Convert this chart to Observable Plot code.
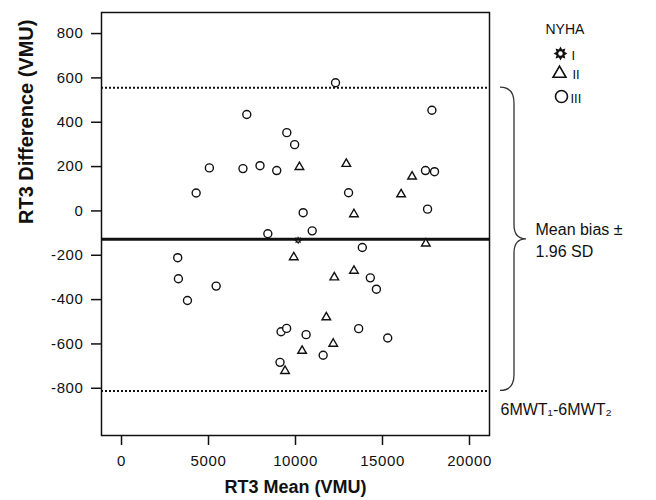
<!DOCTYPE html>
<html><head><meta charset="utf-8">
<script src="https://cdn.jsdelivr.net/npm/d3@7"></script>
<script src="https://cdn.jsdelivr.net/npm/@observablehq/plot@0.6"></script>
<style>
body{margin:0;background:#fff;}
g[aria-label="x-axis tick label"] text, g[aria-label="y-axis tick label"] text{letter-spacing:0.6px;}
g[aria-label="xlabel"] text{letter-spacing:2.2px;}
g[aria-label="ylabel"] text{letter-spacing:2.6px;}
g[aria-label="bias-text"] text{letter-spacing:1.8px;}
g[aria-label="diff-text"] text{letter-spacing:2px;}
</style></head><body><div id="chart"></div>
<script>
// NYHA class III (circles)
const nyha3Mean = [7200, 9500, 9950, 5050, 6980, 7960, 8920, 4290, 10440, 8410, 10960, 3230, 12300, 17840, 17470, 17990, 13050, 17590, 13840, 3270, 3790, 5440, 9170, 9490, 10610, 9110, 14300, 14650, 13630, 15300, 11590];
const nyha3Diff = [435, 353, 299, 194, 191, 204, 182, 81, -8, -103, -90, -211, 578, 454, 182, 177, 82, 8, -165, -306, -404, -339, -545, -530, -558, -683, -302, -353, -531, -573, -651];
// NYHA class II (triangles)
const nyha2Mean = [10225, 9900, 12920, 16700, 16070, 13360, 17490, 10380, 9400, 12230, 13360, 11770, 12170];
const nyha2Diff = [198, -209, 212, 155, 75, -15, -147, -631, -722, -300, -270, -480, -599];
// NYHA class I (star)
const nyha1Mean = [10150];
const nyha1Diff = [-132];

const meanBias = -128;
const upperLoA = 556;
const lowerLoA = -812;

const xTicks = [0, 5000, 10000, 15000, 20000];
const yTicks = [-800, -600, -400, -200, 0, 200, 400, 600, 800];
const legendTitle = "NYHA";
const legendLabels = ["I", "II", "III"];

const toRows = (xs, ys, cls) => xs.map((x, i) => ({mean: x, diff: ys[i], nyha: cls}));
const rows3 = toRows(nyha3Mean, nyha3Diff, "III");
const rows2 = toRows(nyha2Mean, nyha2Diff, "II");
const rows1 = toRows(nyha1Mean, nyha1Diff, "I");

// sun / cog symbol
const sun = {
  draw(ctx, size) {
    const R = Math.sqrt(size / Math.PI) * 1.15;
    const n = 8;
    for (let i = 0; i < 2 * n; i++) {
      const a = i * Math.PI / n;
      const rr = i % 2 ? R * 0.62 : R;
      const x = rr * Math.sin(a), y = -rr * Math.cos(a);
      if (i) ctx.lineTo(x, y); else ctx.moveTo(x, y);
    }
    ctx.closePath();
    const h = R * 0.32;
    ctx.moveTo(h, 0);
    ctx.arc(0, 0, h, 0, 2 * Math.PI, true);
    ctx.closePath();
  }
};

// brace mark derived from the scales
function brace(index, scales, values, dimensions) {
  const yT = scales.y(upperLoA), yM = scales.y(meanBias), yB = scales.y(lowerLoA);
  const xr = dimensions.width - dimensions.marginRight;
  const x0 = xr + 11, xv = xr + 25, xt = xr + 37;
  const p = d3.path();
  p.moveTo(x0, yT);
  p.quadraticCurveTo(xv, yT, xv, yT + 16);
  p.lineTo(xv, yM - 14);
  p.quadraticCurveTo(xv, yM, xt, yM);
  p.quadraticCurveTo(xv, yM, xv, yM + 14);
  p.lineTo(xv, yB - 16);
  p.quadraticCurveTo(xv, yB, x0, yB);
  const svg = d3.create("svg:path")
    .attr("d", p.toString())
    .attr("fill", "none")
    .attr("stroke", "#333")
    .attr("stroke-width", 1.3);
  return svg.node();
}

const ink = "#111";

const chart = Plot.plot({
  width: 656,
  height: 500,
  marginLeft: 101,
  marginRight: 167,
  marginTop: 12,
  marginBottom: 65,
  style: {fontFamily: "'Liberation Sans', Arial, sans-serif", fontSize: "15px", color: ink, background: "#fff"},
  x: {domain: [-1150, 21150]},
  y: {domain: [-1013, 895]},
  marks: [
    Plot.ruleY([upperLoA, lowerLoA], {stroke: ink, strokeWidth: 2, strokeDasharray: "2,2"}),
    Plot.ruleY([meanBias], {stroke: ink, strokeWidth: 3}),
    Plot.frame({stroke: ink, strokeWidth: 1.5}),
    Plot.axisX({ticks: xTicks, tickSize: 10, tickPadding: 10, tickFormat: d => String(d), label: null, fontSize: 15, strokeWidth: 1.5}),
    Plot.axisY({ticks: yTicks, tickSize: 10, tickPadding: 8, tickFormat: d => String(d).replace("−", "-"), label: null, fontSize: 15, strokeWidth: 1.5}),
    Plot.dot(rows3, {x: "mean", y: "diff", r: 4, symbol: "circle", fill: "white", stroke: ink, strokeWidth: 1.4}),
    Plot.dot(rows2, {x: "mean", y: "diff", r: 3.2, symbol: "triangle", fill: "white", stroke: ink, strokeWidth: 1.4}),
    Plot.dot(rows1, {x: "mean", y: "diff", r: 3.5, symbol: sun, fill: ink, stroke: "none"}),
    brace,
    Plot.text(["Mean bias ±\n1.96 SD"], {y: () => meanBias, text: d => d, frameAnchor: "right", dx: 46, textAnchor: "start", lineAnchor: "middle", fontSize: 16, lineHeight: 1.35, fill: ink, ariaLabel: "bias-text"}),
    Plot.text(["6MWT₁-6MWT₂"], {y: () => lowerLoA, text: d => d, frameAnchor: "right", dx: 11, dy: 19, textAnchor: "start", lineAnchor: "middle", fontSize: 16, fill: ink, ariaLabel: "diff-text"}),
    Plot.text(["RT3 Mean (VMU)"], {text: d => d, frameAnchor: "bottom", dy: 52, lineAnchor: "middle", fontSize: 18, fontWeight: "bold", fill: ink, ariaLabel: "xlabel"}),
    Plot.text(["RT3 Difference (VMU)"], {text: d => d, frameAnchor: "left", dx: -75, rotate: -90, lineAnchor: "middle", fontSize: 20, fontWeight: "bold", fill: ink, ariaLabel: "ylabel"}),
    Plot.text([legendTitle], {text: d => d, frameAnchor: "top-right", dx: 56, dy: 17, textAnchor: "start", lineAnchor: "middle", fontSize: 14, fill: ink}),
    Plot.dot([legendLabels[0]], {frameAnchor: "top-right", dx: 71, dy: 41, r: 6, symbol: sun, fill: ink, stroke: "none"}),
    Plot.dot([legendLabels[1]], {frameAnchor: "top-right", dx: 70, dy: 61, r: 4.8, symbol: "triangle", fill: "white", stroke: ink, strokeWidth: 1.6}),
    Plot.dot([legendLabels[2]], {frameAnchor: "top-right", dx: 72, dy: 84, r: 6, symbol: "circle", fill: "white", stroke: ink, strokeWidth: 1.6}),
    Plot.text([legendLabels[0]], {text: d => d, frameAnchor: "top-right", dx: 82, dy: 43, textAnchor: "start", lineAnchor: "middle", fontSize: 13, fill: ink}),
    Plot.text([legendLabels[1]], {text: d => d, frameAnchor: "top-right", dx: 83, dy: 62, textAnchor: "start", lineAnchor: "middle", fontSize: 13, fill: ink}),
    Plot.text([legendLabels[2]], {text: d => d, frameAnchor: "top-right", dx: 81, dy: 86, textAnchor: "start", lineAnchor: "middle", fontSize: 13, fill: ink})
  ]
});
document.getElementById("chart").appendChild(chart);
</script>
</body></html>
